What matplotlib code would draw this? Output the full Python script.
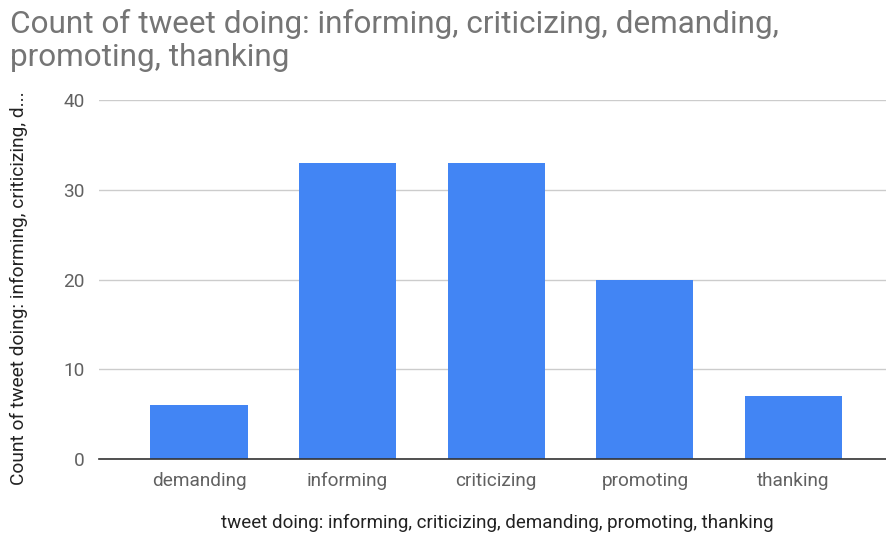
import matplotlib.pyplot as plt

categories = ["demanding", "informing", "criticizing", "promoting", "thanking"]
counts = [6, 33, 33, 20, 7]
yticks = [0, 10, 20, 30, 40]

plt.rcParams['font.family'] = ['Roboto', 'DejaVu Sans']

fig = plt.figure(figsize=(8.87, 5.38), dpi=100)
ax = fig.add_axes([0.1116, 0.1468, 0.888, 0.6673])

x = list(range(len(categories)))
ax.bar(x, counts, width=0.653, color="#4285F4", zorder=3)

ax.set_xlim(-0.673, 4.626)
ax.set_ylim(0, 40)
ax.set_yticks(yticks)
ax.set_xticks(x)
ax.set_xticklabels(categories)
ax.tick_params(axis='both', length=0, labelsize=13.7, labelcolor="#616161")
ax.tick_params(axis='y', pad=10)
ax.tick_params(axis='x', pad=9)

ax.grid(axis='y', color="#cccccc", linewidth=1, zorder=0)
for side in ["top", "right", "left"]:
    ax.spines[side].set_visible(False)
ax.spines["bottom"].set_color("#333333")
ax.spines["bottom"].set_linewidth(1.2)
ax.spines["bottom"].set_zorder(4)

fig.text(0.561, 1 - 523 / 538, "tweet doing: informing, criticizing, demanding, promoting, thanking",
         fontsize=13.5, color="#222222", ha='center', va='center')
fig.text(0.021, 1 - 288 / 538, "Count of tweet doing: informing, criticizing, d...",
         rotation=90, fontsize=13.8, color="#222222", ha='center', va='center')

fig.text(0.011, 0.983, "Count of tweet doing: informing, criticizing, demanding,\npromoting, thanking",
         fontsize=22.7, color="#757575", ha='left', va='top', linespacing=1.15)

fig.savefig("out.png", dpi=100)
